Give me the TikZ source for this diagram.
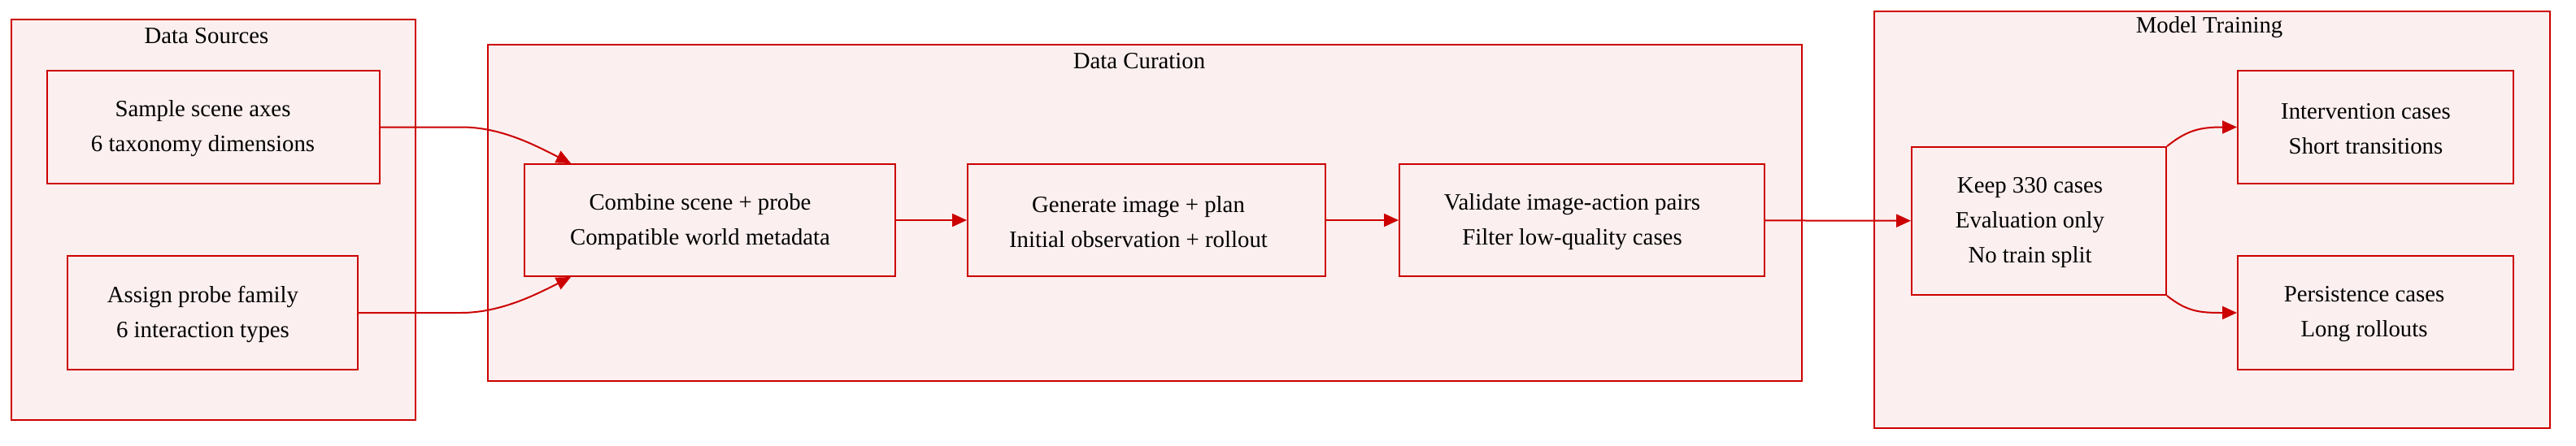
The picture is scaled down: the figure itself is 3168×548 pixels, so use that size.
\documentclass[tikz,border=0pt]{standalone}
\usepackage{fontspec}
\setmainfont{Liberation Serif}
\usetikzlibrary{arrows.meta}
\definecolor{edgered}{RGB}{204,0,0}
\definecolor{fillpink}{RGB}{252,239,239}
\tikzset{
  cluster/.style={draw=edgered, fill=fillpink, line width=1pt},
  box/.style={draw=edgered, fill=fillpink, line width=1pt, inner sep=0pt},
  txt/.style={align=center, font=\fontsize{14.4}{21.5}\selectfont, inner sep=0pt},
  ttl/.style={font=\fontsize{14.4}{17}\selectfont, inner sep=0pt},
  arr/.style={draw=edgered, line width=1pt, -{Triangle[length=9pt,width=8pt]}}
}
\begin{document}
\begin{tikzpicture}[x=0.5pt,y=-0.5pt]
\useasboundingbox (0,0) rectangle (3168,548);
% clusters
\draw[cluster] (14,24) rectangle (511,517);
\node[ttl] (tds) at (254,44) {Data Sources};
\draw[cluster] (600,55) rectangle (2216,469);
\node[ttl] (tdc) at (1401,75) {Data Curation};
\draw[cluster] (2305,14) rectangle (3136,527);
\node[ttl] (tmt) at (2717,34) {Model Training};
% nodes
\node[box, minimum width=204.5pt, minimum height=69.5pt] (sample) at (262.5,156.5) {};
\node[box, minimum width=178.5pt, minimum height=70pt] (assign) at (261.5,385) {};
\node[box, minimum width=228pt, minimum height=69pt] (combine) at (873,271) {};
\node[box, minimum width=220pt, minimum height=69pt] (generate) at (1410,271) {};
\node[box, minimum width=224.5pt, minimum height=69pt] (validate) at (1945.5,271) {};
\node[box, minimum width=156.5pt, minimum height=91pt] (keep) at (2507.5,272) {};
\node[box, minimum width=169.5pt, minimum height=69.5pt] (inter) at (2921.5,156.5) {};
\node[box, minimum width=169.5pt, minimum height=70pt] (persist) at (2921.5,385) {};
% texts
\node[txt] (sampleT) at ([xshift=-6.5pt,yshift=-1pt]sample.center) {Sample scene axes\\6 taxonomy dimensions};
\node[txt] (assignT) at ([xshift=-6pt,yshift=-1pt]assign.center) {Assign probe family\\6 interaction types};
\node[txt] (combineT) at ([xshift=-6pt,yshift=-1pt]combine.center) {Combine scene + probe\\Compatible world metadata};
\node[txt] (generateT) at ([xshift=-5pt,yshift=-1pt]generate.center) {Generate image + plan\\Initial observation + rollout};
\node[txt] (validateT) at ([xshift=-6pt,yshift=-1pt]validate.center) {Validate image-action pairs\\Filter low-quality cases};
\node[txt] (keepT) at ([xshift=-5.5pt,yshift=-1pt]keep.center) {Keep 330 cases\\Evaluation only\\No train split};
\node[txt] (interT) at ([xshift=-6pt,yshift=-1pt]inter.center) {Intervention cases\\Short transitions};
\node[txt] (persistT) at ([xshift=-7pt,yshift=-1pt]persist.center) {Persistence cases\\Long rollouts};
% edges
\draw[arr] (sample.east) -- ++(100,0) .. controls +(50,0) and +(-40,-20) .. ([xshift=29pt]combine.north west);
\draw[arr] (assign.east) -- ++(126,0) .. controls +(50,0) and +(-40,20) .. ([xshift=29pt]combine.south west);
\draw[arr] (combine) -- (generate);
\draw[arr] (generate) -- (validate);
\draw[arr] (validate) -- (keep);
\draw[arr] (keep.north east) .. controls +(25,-20) and +(-45,0) .. (inter.west);
\draw[arr] (keep.south east) .. controls +(25,20) and +(-45,0) .. (persist.west);
\end{tikzpicture}
\end{document}
